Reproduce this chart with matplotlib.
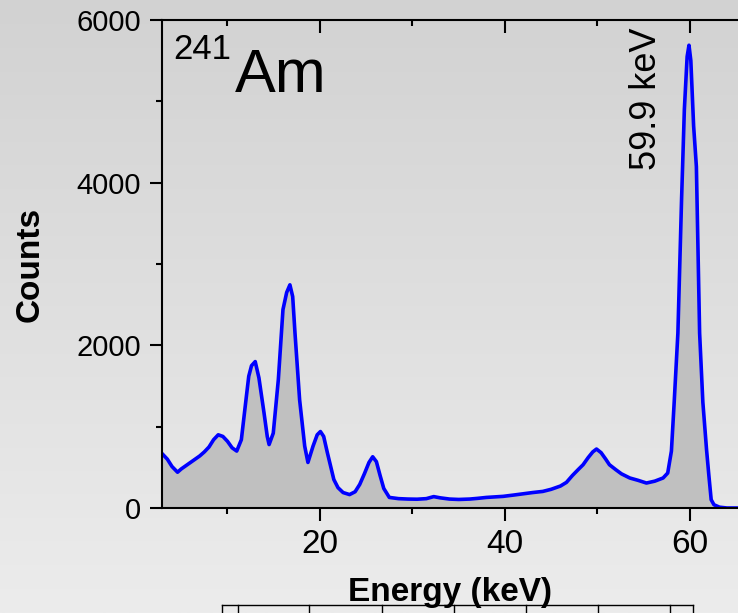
import numpy as np
import matplotlib
matplotlib.use("Agg")
from matplotlib import pyplot as plt
from matplotlib.lines import Line2D
from matplotlib.ticker import MultipleLocator

plt.rcParams['font.family'] = ['Liberation Sans', 'DejaVu Sans']

## DATA
energy = [3.0, 3.5, 4.0, 4.6, 5.0, 5.5, 6.0, 6.5, 7.0, 7.5, 8.0, 8.5, 9.0, 9.5,
          10.0, 10.5, 11.0, 11.5, 12.0, 12.3, 12.6, 13.0, 13.4, 13.95, 14.3, 14.5,
          14.95, 15.5, 16.0, 16.4, 16.75, 17.05, 17.3, 17.8, 18.35, 18.7, 19.25,
          19.7, 20.05, 20.4, 20.8, 21.5, 21.95, 22.5, 23.2, 23.8, 24.3, 24.8,
          25.3, 25.7, 26.1, 26.5, 26.9, 27.5, 28.5, 29.5, 30.5, 31.5, 32.3, 33.0,
          34.0, 35.0, 36.2, 37.0, 38.0, 39.8, 41.0, 42.0, 43.0, 44.1, 45.0, 46.0,
          46.65, 47.3, 47.9, 48.45, 49.0, 49.5, 49.9, 50.4, 50.9, 51.3, 52.0,
          52.6, 53.5, 54.4, 55.3, 56.2, 57.1, 57.6, 58.0, 58.3, 58.7, 59.1, 59.4,
          59.7, 59.9, 60.1, 60.4, 60.7, 61.05, 61.4, 61.8, 62.05, 62.3, 62.6,
          63.2, 64.0, 65.2]
counts = [660, 600, 510, 440, 480, 520, 560, 600, 640, 690, 750, 840, 900, 880,
          820, 740, 700, 840, 1330, 1620, 1750, 1800, 1600, 1170, 880, 780,
          920, 1580, 2440, 2650, 2744, 2600, 2150, 1330, 760, 560, 760,
          900, 940, 880, 680, 350, 250, 190, 165, 200, 290, 420,
          560, 630, 570, 400, 240, 130, 115, 110, 108, 115, 140, 125,
          110, 105, 110, 118, 130, 143, 160, 175, 190, 204, 230, 270,
          315, 400, 470, 532, 620, 690, 725, 680, 600, 532, 470,
          420, 369, 340, 307, 330, 369, 430, 700, 1300, 2150, 3800, 4900,
          5550, 5690, 5500, 4700, 4198, 2150, 1300, 716, 400, 102, 40,
          10, 0, 0]

xTicks = [20, 40, 60]
yTicks = [0, 2000, 4000, 6000]

## FIGURE
fig = plt.figure(figsize=(7.38, 6.13), dpi=100)

# grey gradient background
bg = fig.add_axes([0, 0, 1, 1], zorder=-10)
grad = np.linspace(0, 1, 256).reshape(-1, 1)
bg.imshow(grad, aspect='auto', cmap=matplotlib.colors.LinearSegmentedColormap.from_list(
    'bg', ['#d2d2d2', '#ececec']), extent=[0, 1, 0, 1], origin='upper')
bg.set_axis_off()

W, H = 738.0, 613.0
ax = fig.add_axes([162 / W, (H - 508) / H, (738 - 162) / W, (508 - 20) / H])
ax.patch.set_alpha(0)

ax.fill_between(energy, counts, 0, color='#c0c0c0', zorder=1)
ax.plot(energy, counts, color='#0000ff', linewidth=2.6, zorder=2)

ax.set_xlim(2.92, 65.2)
ax.set_ylim(0, 6000)
ax.set_xticks(xTicks)
ax.set_yticks(yTicks)
ax.xaxis.set_minor_locator(MultipleLocator(10))
ax.yaxis.set_minor_locator(MultipleLocator(1000))

for s in ['left', 'bottom', 'top']:
    ax.spines[s].set_linewidth(1.5)
ax.spines['right'].set_visible(False)

ax.tick_params(axis='both', which='major', length=9, width=1.5)
ax.tick_params(axis='both', which='minor', length=4.5, width=1.5)
ax.tick_params(axis='x', which='both', top=True, labelsize=24, pad=6)
ax.tick_params(axis='y', which='both', labelsize=21, pad=6)
# top ticks point inward, bottom outward
ax.xaxis.set_tick_params(which='both', direction='out')
for t in ax.xaxis.get_major_ticks() + ax.xaxis.get_minor_ticks():
    t.tick2line.set_marker(3)

ax.set_xlabel('Energy (keV)', fontsize=24, fontweight='bold', labelpad=12)
ax.set_ylabel('Counts', fontsize=24, fontweight='bold', labelpad=22)

ax.text(173 / W, 1 - 33 / H, '241', transform=fig.transFigure, fontsize=25,
        ha='left', va='top')
ax.text(235 / W, 1 - 48 / H, 'Am', transform=fig.transFigure, fontsize=44,
        ha='left', va='top')
ax.text(647 / W, 1 - 28 / H, '59.9 keV', transform=fig.transFigure, fontsize=26,
        rotation=90, ha='center', va='top')

# remnant of a table cut at the bottom edge
tableX = [222, 238, 309, 382, 454, 526, 598, 670, 693]
fig.add_artist(Line2D([tableX[0] / W, tableX[-1] / W], [1 - 605 / H] * 2,
                      color='black', linewidth=1.0))
for x in tableX:
    fig.add_artist(Line2D([x / W, x / W], [1 - 605 / H, 0], color='black', linewidth=1.0))

fig.savefig('out.png', dpi=100)
